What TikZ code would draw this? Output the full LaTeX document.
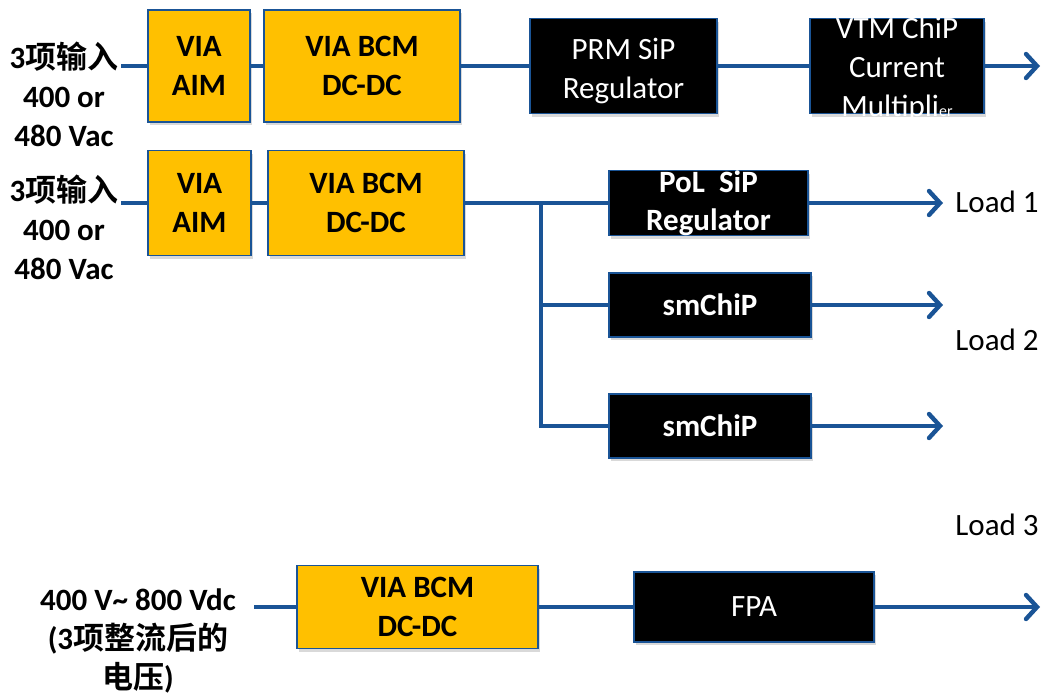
\documentclass[tikz,border=0pt]{standalone}
\usepackage{fontspec}
\setmainfont{Carlito}
\newfontfamily\cjk{Noto Sans CJK SC}[BoldFont={Noto Sans CJK SC Bold}]
\usepackage{tikz}
\usetikzlibrary{positioning,arrows.meta,shadows}
\definecolor{linkblue}{RGB}{26,84,150}
\definecolor{viayellow}{RGB}{255,192,0}

\begin{document}
\begin{tikzpicture}[x=0.5pt, y=-0.5pt,
        box/.style={draw=linkblue, line width=0.8pt, inner sep=0pt, align=center,
            font=\fontsize{15.5}{19.5}\selectfont,
            drop shadow={shadow xshift=1pt, shadow yshift=-1.5pt, opacity=0.3}},
        ybox/.style={box, fill=viayellow, font=\bfseries\fontsize{15.5}{19.5}\selectfont},
        kbox/.style={box, fill=black, text=white},
        ktext/.style={text=white, align=center, inner sep=0pt, font=\fontsize{15.5}{19.5}\selectfont},
        src/.style={align=center, inner sep=0pt, font=\bfseries\fontsize{15.5}{19.5}\selectfont},
        load/.style={anchor=west, inner sep=0pt, font=\fontsize{15.5}{19.5}\selectfont},
        link/.style={draw=linkblue, line width=2.2pt},
        >={Straight Barb[length=5.5pt, width=12pt, line cap=round]}
    ]
        \useasboundingbox (0,0) rectangle (1044,697);

        % first chain: AC input to VTM
        \node [src] (srcA) at (64,94) {3{\cjk 项输入}\\400 or\\480 Vac};
        \coordinate (inA) at (121,66);
        \node [ybox, minimum width=51pt, minimum height=56pt] (aimA) at (199,66) {VIA\\AIM};
        \node [ybox, minimum width=98pt, minimum height=56pt] (bcmA) at (362,66) {VIA BCM\\DC-DC};
        \node [kbox, minimum width=93.5pt, minimum height=47.5pt] (prm) at (623.5,66) {};
        \node [ktext] (prmtxt) at ([yshift=-2.5pt]prm.center) {PRM SiP\\Regulator};
        \node [kbox, minimum width=87pt, minimum height=47.5pt] (vtm) at (897,66) {};
        \node [ktext] (vtmtxt) at ([yshift=-1.5pt]vtm.center) {VTM ChiP\\Current\\Multipli{\fontsize{8}{8}\selectfont er}};
        \coordinate (outA) at (1040,66);

        \draw [link] (inA) -- (aimA);
        \draw [link] (aimA) -- (bcmA);
        \draw [link] (bcmA) -- (prm);
        \draw [link] (prm) -- (vtm);
        \draw [link, ->] (vtm) -- (outA);

        % second chain: AC input to point of load
        \node [src] (srcB) at (64,227) {3{\cjk 项输入}\\400 or\\480 Vac};
        \coordinate (inB) at (121,203);
        \node [ybox, minimum width=51.5pt, minimum height=52.5pt] (aimB) at (199.5,203) {VIA\\AIM};
        \node [ybox, minimum width=98pt, minimum height=52.5pt] (bcmB) at (366,203) {VIA BCM\\DC-DC};
        \coordinate (bus) at (541,203);
        \node [kbox, minimum width=99.5pt, minimum height=32.5pt] (pol) at (708.5,203) {};
        \node [ktext, font=\bfseries\fontsize{15.5}{19}\selectfont] (poltxt) at (pol.center) {PoL\ \ SiP\\Regulator};
        \node [kbox, minimum width=101pt, minimum height=32pt, font=\bfseries\fontsize{15.5}{19.5}\selectfont] (smA) at (710,305) {smChiP};
        \node [kbox, minimum width=101pt, minimum height=32pt, font=\bfseries\fontsize{15.5}{19.5}\selectfont] (smB) at (710,426) {smChiP};
        \coordinate (outB1) at (943,203);
        \coordinate (outB2) at (943,305);
        \coordinate (outB3) at (943,426);

        \draw [link] (inB) -- (aimB);
        \draw [link] (aimB) -- (bcmB);
        \draw [link] (bcmB) -- (bus) -- (pol);
        \draw [link] (bus) |- (smB);
        \draw [link] (bus |- smA) -- (smA);
        \draw [link, ->] (pol) -- (outB1);
        \draw [link, ->] (smA) -- (outB2);
        \draw [link, ->] (smB) -- (outB3);

        \node [load] (load1) at (955,202) {Load 1};
        \node [load] (load2) at (955,340) {Load 2};
        \node [load] (load3) at (955,525) {Load 3};

        % third chain: rectified DC input
        \node [src] (srcC) at (138,641) {400 V\textasciitilde\ 800 Vdc\\(3{\cjk 项整流后的}\\{\cjk 电压})};
        \coordinate (inC) at (254,607);
        \node [ybox, minimum width=120.5pt, minimum height=41.5pt] (bcmC) at (417.5,607) {VIA BCM\\DC-DC};
        \node [kbox, minimum width=120pt, minimum height=35pt] (fpa) at (754,607) {FPA};
        \coordinate (outC) at (1040,607);

        \draw [link] (inC) -- (bcmC);
        \draw [link] (bcmC) -- (fpa);
        \draw [link, ->] (fpa) -- (outC);
    \end{tikzpicture}
\end{document}
